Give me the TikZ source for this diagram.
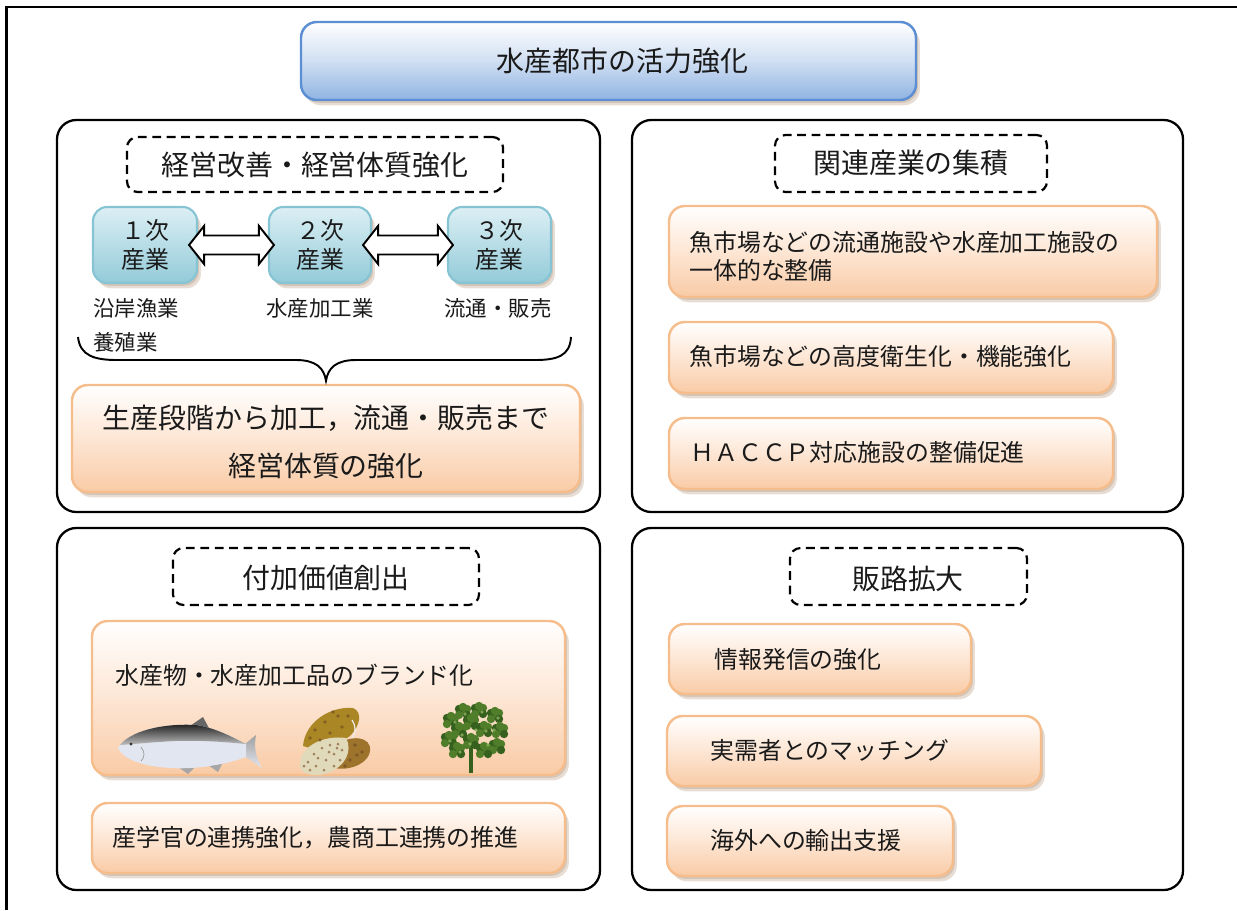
\documentclass[tikz,border=0pt]{standalone}
\usepackage{fontspec}
\setmainfont{Noto Sans CJK JP}
\usetikzlibrary{fit,shadows,calc}
\definecolor{inkc}{HTML}{1A1A1A}
\definecolor{orangeline}{HTML}{F6BD8C}
\definecolor{orangebot}{HTML}{F9CBA6}
\definecolor{orangemid}{HTML}{FDE6D4}
\definecolor{shadowtan}{HTML}{A88666}
\definecolor{blueline}{HTML}{5B8ED2}
\definecolor{bluebot}{HTML}{8FB3E2}
\definecolor{bluemid}{HTML}{D0DFF2}
\definecolor{tealline}{HTML}{86C3D3}
\definecolor{tealtop}{HTML}{DCEFF4}
\definecolor{tealbot}{HTML}{93CBD9}
\definecolor{leafdark}{HTML}{35601E}
\definecolor{leafmid}{HTML}{4F7D2A}
\definecolor{leaflight}{HTML}{8DB25C}
\definecolor{silver}{HTML}{E2E6F0}
\begin{document}
\begin{tikzpicture}[x=0.02cm,y=-0.02cm,
  softshadow/.style={
    general shadow={fill=shadowtan, opacity=.28, shadow xshift=1.1pt, shadow yshift=-1.6pt},
    general shadow={fill=shadowtan, opacity=.28, shadow xshift=2.2pt, shadow yshift=-3.0pt}},
  panel/.style={draw=black, line width=1.3pt, rounded corners=11pt, inner sep=0pt},
  heading/.style={draw=black, line width=1.25pt, dash pattern=on 5pt off 3.2pt, rounded corners=6pt, inner sep=0pt},
  titlebox/.style={softshadow, draw=blueline, line width=1.4pt, rounded corners=9pt, inner sep=0pt,
    top color=white, bottom color=bluebot, middle color=bluemid},
  orangebox/.style={softshadow, draw=orangeline, line width=1.4pt, rounded corners=9pt, inner sep=0pt,
    top color=white, bottom color=orangebot, middle color=orangemid},
  tealbox/.style={softshadow, draw=tealline, line width=1.2pt, rounded corners=8pt, inner sep=0pt,
    top color=tealtop, bottom color=tealbot},
  dblarrow/.style={draw=black, fill=white, line width=1.1pt, line join=miter},
  bigtext/.style={font=\fontsize{15.9}{19}\selectfont, text=inkc, inner sep=0pt},
  midtext/.style={font=\fontsize{13.6}{16}\selectfont, text=inkc, inner sep=0pt},
  smalltext/.style={font=\fontsize{12.2}{14}\selectfont, text=inkc, inner sep=0pt}
]
\useasboundingbox (0,0) rectangle (1237,910);

% outer frame (only its top and left edges lie on the page)
\draw[line width=1.2pt] (6.5,910) -- (6.5,7) -- (1237,7);

% title
\node[titlebox, fit={(301,22) (916,100)}] (title) {};
\node[bigtext] (titletext) at ($(title.center)+(14,0)$) {水産都市の活力強化};

% four panels
\node[panel, fit={(57,120) (600,512)}] (pTL) {};
\node[panel, fit={(632,120) (1183,512)}] (pTR) {};
\node[panel, fit={(57,528) (600,890)}] (pBL) {};
\node[panel, fit={(632,528) (1183,890)}] (pBR) {};

% dashed headings
\node[heading, fit={(127,137) (503,192)}] (hTL) {};
\node[bigtext] (hTLtext) at (315,165) {経営改善・経営体質強化};
\node[heading, fit={(775,135) (1047,192)}] (hTR) {};
\node[bigtext] (hTRtext) at (911,163) {関連産業の集積};
\node[heading, fit={(173,548) (479,605)}] (hBL) {};
\node[bigtext] (hBLtext) at (326,578) {付加価値創出};
\node[heading, fit={(790,548) (1027,605)}] (hBR) {};
\node[bigtext] (hBRtext) at (908,579) {販路拡大};

% --- top left: industry chain ---
\node[tealbox, fit={(93,207) (197,283)}] (ind1) {};
\node[tealbox, fit={(269,207) (371,283)}] (ind2) {};
\node[tealbox, fit={(448,207) (551,283)}] (ind3) {};
\node[midtext, align=center, font=\fontsize{13.6}{17}\selectfont] (ind1text) at (ind1.center) {１次\\産業};
\node[midtext, align=center, font=\fontsize{13.6}{17}\selectfont] (ind2text) at (ind2.center) {２次\\産業};
\node[midtext, align=center, font=\fontsize{13.6}{17}\selectfont] (ind3text) at (ind3.center) {３次\\産業};

\foreach \a/\b in {ind1/ind2, ind2/ind3} {
  \draw[dblarrow] ($(\a.east)+(-9,0)$) -- ++(15,-19) -- ++(0,9.5)
    -- ($(\b.west)+(-9,-9.5)$) -- ++(0,-9.5) -- ++(15,19) -- ++(-15,19) -- ++(0,-9.5)
    -- ($(\a.east)+(6,9.5)$) -- ++(0,9.5) -- cycle;
}

\node[smalltext, anchor=west] (lab1a) at (93,308) {沿岸漁業};
\node[smalltext, anchor=west] (lab1b) at (93,342) {養殖業};
\node[smalltext] (lab2) at (320,308) {水産加工業};
\node[smalltext] (lab3) at (498,308) {流通・販売};

\node[orangebox, fit={(72,385) (580,492)}] (whole) {};
\node[bigtext, align=center, font=\fontsize{15.9}{27}\selectfont] (wholetext) at (326,442)
  {生産段階から加工，流通・販売まで\\経営体質の強化};

% brace gathering the three industries
\coordinate (braceL) at (78,337);
\coordinate (braceR) at (571,337);
\coordinate (braceTip) at ($(whole.north)+(0,-3)$);
\draw[line width=1.1pt] (braceL) .. controls (80,356) and (95,360) .. (117,360) -- (296,360)
  .. controls (316,360) and (324,368) .. (braceTip)
  .. controls (328,368) and (336,360) .. (356,360) -- (535,360)
  .. controls (557,360) and (570,356) .. (braceR);

% --- top right ---
\node[orangebox, fit={(669,206) (1157,297)}] (tr1) {};
\node[midtext, anchor=west, align=left, font=\fontsize{13.6}{15.9}\selectfont] (tr1text) at (689,256)
  {魚市場などの流通施設や水産加工施設の\\一体的な整備};
\node[orangebox, fit={(669,322) (1113,393)}] (tr2) {};
\node[midtext, anchor=west] (tr2text) at (689,356) {魚市場などの高度衛生化・機能強化};
\node[orangebox, fit={(669,418) (1113,489)}] (tr3) {};
\node[midtext, anchor=west] (tr3text) at (690,452) {ＨＡＣＣＰ対応施設の整備促進};

% --- bottom left ---
\node[orangebox, fit={(92,621) (565,775)}] (brand) {};
\node[midtext, anchor=west] (brandtext) at (115,675) {水産物・水産加工品のブランド化};
\node[orangebox, fit={(92,803) (565,873)}] (coop) {};
\node[midtext, anchor=west] (cooptext) at (112,838) {産学官の連携強化，農商工連携の推進};

% salmon: silver body, dark back, fins
\begin{scope}
  \fill[black!60] (190,726) -- (203,717) -- (210,730) -- cycle;
  \fill[black!35] (178,767) -- (188,774) -- (194,768) -- cycle;
  \fill[black!35] (208,765) -- (218,772) -- (222,764) -- cycle;
  \shade[top color=gray!75, bottom color=silver]
    (245,744) -- (256,735) .. controls (254,746) and (255,756) .. (262,768) -- (246,757) -- cycle;
  \fill[silver]
    (118,748) .. controls (128,732) and (160,723) .. (196,725)
    .. controls (216,728) and (232,737) .. (246,744) -- (246,757)
    .. controls (224,765) and (190,771) .. (160,767)
    .. controls (140,765) and (122,758) .. (118,748) -- cycle;
  \shade[top color=black!90, bottom color=black!25]
    (120,745) .. controls (130,732) and (160,723) .. (196,725)
    .. controls (216,728) and (232,737) .. (246,744)
    .. controls (225,742) and (200,740) .. (175,741)
    .. controls (155,742) and (135,744) .. (120,745) -- cycle;
  \fill[black!80] (131,744) circle[radius=1.6];
  \draw[black!40, line width=0.4pt] (141,747) .. controls (145,752) and (145,757) .. (141,761);
\end{scope}

% oyster
\begin{scope}
  \fill[fill=brown!75!olive!90!black] (335,746) .. controls (350,734) and (372,736) .. (370,751)
    .. controls (368,766) and (342,773) .. (330,766) -- cycle;
  \fill[fill=brown!60!olive!95!yellow] (303,746) .. controls (305,722) and (330,706) .. (353,708)
    .. controls (363,712) and (360,726) .. (350,736)
    .. controls (335,746) and (315,751) .. (303,746) -- cycle;
  \fill[fill=brown!40!olive!30!white] (300,765) .. controls (300,745) and (325,735) .. (346,738)
    .. controls (353,750) and (346,770) .. (320,775)
    .. controls (308,776) and (300,772) .. (300,765) -- cycle;
  \foreach \px/\py in {308/762,314/754,322/748,330/745,338/744,316/766,326/760,334/754,342/750,324/770,334/766,340/760,310/770,318/758,304/766,329/752,337/748}
    \fill[brown!65!black, opacity=.65] (\px,\py) circle[radius=1.5];
  \foreach \px/\py in {315/730,325/722,338/716,348/716,330/733,342/727,320/740,355/745,362/752,350/760,345/766,310/738,333/712,357/755}
    \fill[brown!55!black, opacity=.6] (\px,\py) circle[radius=1.8];
  \draw[white!85!gray, line width=0.7pt] (352,720) .. controls (356,726) and (356,732) .. (352,738);
\end{scope}

% seaweed
\begin{scope}
  \draw[leafdark, line width=1.8pt] (471,773) -- (471,736);
  \foreach \cx/\cy in {451/721, 463/712, 479/711, 495/716, 500/731, 449/740,
      459/731, 484/730, 497/747, 457/751, 484/751, 471/723, 471/742}
    \foreach \dx/\dy/\c in {0/0/leafmid, -4/-3/leafdark, 4/-3/leafmid, -4/3/leafmid, 4/3/leafdark, 0/-5/leafmid}
      \fill[\c] (\cx+\dx,\cy+\dy) circle[radius=4.2];
  \foreach \px/\py in {455/722,465/714,482/712,494/730,450/741,462/735,488/745,460/752,476/730,498/718,470/744,486/731}
    \fill[leaflight, opacity=.8] (\px,\py) circle[radius=1.8];
\end{scope}

% --- bottom right ---
\node[orangebox, fit={(669,624) (971,694)}] (br1) {};
\node[midtext, anchor=west] (br1text) at (714,659) {情報発信の強化};
\node[orangebox, fit={(667,716) (1041,786)}] (br2) {};
\node[midtext, anchor=west] (br2text) at (710,750) {実需者とのマッチング};
\node[orangebox, fit={(667,806) (953,876)}] (br3) {};
\node[midtext, anchor=west] (br3text) at (710,840) {海外への輸出支援};
\end{tikzpicture}
\end{document}
